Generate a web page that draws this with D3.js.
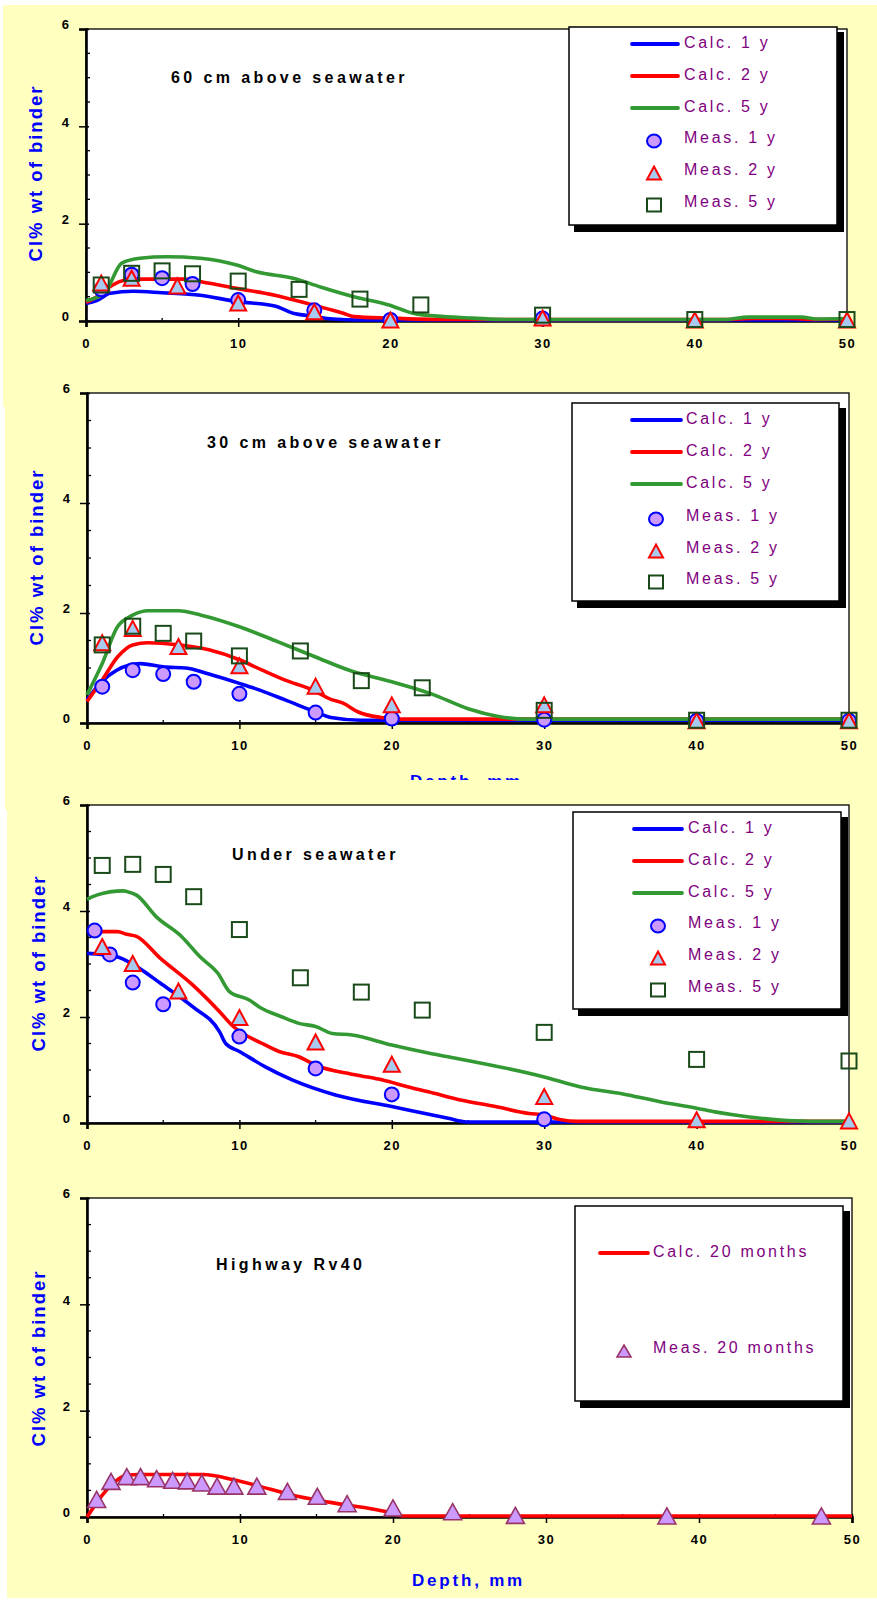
<!DOCTYPE html>
<html><head><meta charset="utf-8">
<script src="https://cdn.jsdelivr.net/npm/d3@7"></script>
<style>body{margin:0;background:#fff}svg{display:block}</style>
</head><body>
<svg id="c" width="877" height="1600"></svg>
<script>
// ---------- data ----------
const depthTicks = [0, 10, 20, 30, 40, 50];
const depthMinor = [5, 15, 25, 35, 45];
const clTicks = [0, 2, 4, 6];
const clMinor = [0.5, 1, 1.5, 2.5, 3, 3.5, 4.5, 5, 5.5];
const titles = ["60 cm above seawater", "30 cm above seawater", "Under seawater", "Highway Rv40"];
const legendLabels = ["Calc. 1 y", "Calc. 2 y", "Calc. 5 y", "Meas. 1 y", "Meas. 2 y", "Meas. 5 y"];
const legendLabelsHwy = ["Calc. 20 months", "Meas. 20 months"];
const yAxisLabel = "Cl% wt of binder";
const xAxisLabel = "Depth, mm";

// 60 cm above seawater
const p60Calc1 = [[0,0.36],[0.7,0.42],[1.6,0.57],[3.1,0.61],[5,0.58],[7.5,0.53],[9.9,0.4],[12.4,0.31],[13.6,0.16],[14.9,0.1],[16.2,0.04],[18,0.02],[50,0.02]];
const p60Calc2 = [[0,0.38],[0.7,0.5],[1.6,0.71],[2.2,0.81],[3.1,0.86],[6.4,0.86],[8,0.78],[9.9,0.67],[12.4,0.53],[14.9,0.33],[16.9,0.16],[17.6,0.09],[19.9,0.06],[24,0.03],[42,0.03],[44,0.05],[46,0.05],[48,0.03],[50,0.04]];
const p60Calc5 = [[0,0.42],[1.2,0.57],[2.35,1.19],[3.55,1.29],[5.3,1.32],[7.5,1.29],[9.9,1.15],[11.2,1.01],[13.6,0.88],[15.4,0.7],[17.6,0.5],[19.9,0.33],[21.5,0.16],[23.5,0.09],[25.4,0.06],[27.6,0.03],[42,0.03],[43.5,0.08],[47,0.08],[48,0.04],[50,0.05]];
const p60Meas1 = [[1,0.65],[3,0.95],[5,0.88],[7,0.76],[10,0.43],[15,0.22],[20,0.02],[30,0.05]];
const p60Meas2 = [[1,0.78],[3,0.88],[6,0.72],[10,0.37],[15,0.19],[20,0.02],[30,0.06],[40,0.02],[50,0.02]];
const p60Meas5 = [[1,0.74],[3,0.98],[5,1.03],[7,0.97],[10,0.82],[14,0.65],[18,0.45],[22,0.33],[30,0.12],[40,0.03],[50,0.03]];

// 30 cm above seawater
const p30Calc1 = [[0,0.42],[0.85,0.72],[1.95,0.96],[3.5,1.08],[5,1.02],[6.5,1.0],[8,0.89],[10,0.72],[11,0.63],[13,0.42],[15,0.2],[16,0.1],[18,0.05],[50,0.05]];
const p30Calc2 = [[0,0.39],[1,0.78],[2,1.2],[3,1.42],[4,1.46],[6,1.42],[8,1.33],[10,1.15],[11.5,0.96],[13,0.78],[14.8,0.6],[16,0.43],[16.8,0.36],[17.8,0.2],[19.3,0.1],[20.5,0.07],[50,0.07]];
const p30Calc5 = [[0,0.51],[1,1.08],[2,1.75],[3,1.96],[4,2.04],[6,2.04],[7.5,1.96],[10,1.75],[12.5,1.48],[15,1.2],[17.3,0.95],[20,0.75],[22.6,0.53],[25,0.26],[27,0.12],[28.7,0.07],[50,0.07]];
const p30Meas1 = [[1,0.66],[3,0.96],[5,0.89],[7,0.75],[10,0.53],[15,0.19],[20,0.08],[30,0.06],[40,0.04],[50,0.04]];
const p30Meas2 = [[1,1.46],[3,1.72],[6,1.39],[10,1.04],[15,0.67],[20,0.33],[30,0.33],[40,0.04],[50,0.04]];
const p30Meas5 = [[1,1.42],[3,1.76],[5,1.63],[7,1.49],[10,1.22],[14,1.31],[18,0.77],[22,0.64],[30,0.23],[40,0.05],[50,0.05]];

// Under seawater
const pUnCalc1 = [[0,3.2],[1.9,3.14],[3.25,2.95],[4.8,2.64],[6.95,2.19],[8.7,1.72],[9.1,1.5],[10,1.35],[11.7,1.06],[13.5,0.81],[16.3,0.53],[20,0.31],[23.7,0.09],[24.9,0.02],[50,0.02]];
const pUnCalc2 = [[0,3.61],[2,3.61],[2.6,3.56],[3.25,3.52],[4.8,3.11],[6.95,2.6],[8.7,2.1],[9.6,1.82],[11.5,1.5],[12.6,1.35],[13.9,1.25],[15,1.09],[17.6,0.91],[19.4,0.81],[21.1,0.68],[22.4,0.59],[24.6,0.43],[26.8,0.31],[29,0.18],[30,0.15],[31.1,0.06],[32.2,0.03],[50,0.03]];
const pUnCalc5 = [[0,4.22],[0.63,4.3],[2.37,4.38],[2.6,4.37],[3.25,4.3],[4.55,3.89],[6.2,3.52],[7.4,3.14],[8.6,2.82],[9.35,2.48],[10.65,2.32],[11.3,2.19],[12.8,2.0],[13.9,1.88],[15,1.82],[16.1,1.69],[17.4,1.66],[20,1.47],[22.4,1.32],[23.7,1.25],[30,0.87],[32.4,0.68],[35.5,0.53],[37.6,0.4],[40,0.28],[41.2,0.21],[42.5,0.15],[44.2,0.09],[46.4,0.04],[48.6,0.03],[50,0.03]];
const pUnMeas1 = [[0.5,3.63],[1.5,3.18],[3,2.65],[5,2.24],[10,1.63],[15,1.03],[20,0.54],[30,0.07]];
const pUnMeas2 = [[1,3.33],[3,3.01],[6,2.49],[10,1.99],[15,1.53],[20,1.11],[30,0.5],[40,0.06],[50,0.04]];
const pUnMeas5 = [[1,4.86],[3,4.88],[5,4.69],[7,4.27],[10,3.65],[14,2.74],[18,2.47],[22,2.13],[30,1.71],[40,1.2],[50,1.17]];

// Highway Rv40
const hwyCalc20 = [[0,0],[1.9,0.68],[2.6,0.79],[3.5,0.8],[7.6,0.8],[9.6,0.7],[12,0.52],[13.9,0.38],[16,0.27],[20,0.07],[20.6,0.02],[50,0.02]];
const hwyMeas20 = [[0.63,0.33],[1.57,0.67],[2.6,0.76],[3.5,0.76],[4.55,0.72],[5.6,0.69],[6.55,0.68],[7.5,0.64],[8.5,0.58],[9.6,0.58],[11.1,0.58],[13.1,0.48],[15.05,0.39],[17.0,0.25],[20.0,0.17],[23.9,0.1],[28.0,0.03],[37.9,0.02],[48.0,0.02]];

// ---------- styles ----------
const FONT = "'Liberation Sans', Arial, sans-serif";
const YELLOW = "#ffffc0";
const styles = {
  calc1: {stroke: "#0000ff"},
  calc2: {stroke: "#ff0000"},
  calc5: {stroke: "#339933"},
  meas1: {shape: "circle", fill: "#cc99ff", stroke: "#0000ff", sw: 2, w: 14, h: 14},
  meas2: {shape: "triangle", fill: "#a6caf0", stroke: "#ff0000", sw: 2, w: 16, h: 15},
  meas5: {shape: "square", fill: "none", stroke: "#1a4a1a", sw: 2, w: 15, h: 15},
  hwyMeas: {shape: "triangle", fill: "#cc99ff", stroke: "#993366", sw: 1.6, w: 18, h: 16},
  hwyLegMeas: {shape: "triangle", fill: "#cc99ff", stroke: "#993366", sw: 1.6, w: 14, h: 12}
};

const panels = [
  {bg: [3, 5, 874, 402], left: 86, right: 847, top: 29, bottom: 321, title: [171, 83], ylab: [42, 173],
   legend: {x0: 569, y0: 27, x1: 837, y1: 225, rows: [48, 80, 112, 143, 175, 207], lineX: [632, 678], textX: 684, markX: 654},
   calc: [[p60Calc1, "calc1"], [p60Calc2, "calc2"], [p60Calc5, "calc5"]],
   meas: [[p60Meas1, "meas1"], [p60Meas2, "meas2"], [p60Meas5, "meas5"]], labels: legendLabels},
  {bg: [5, 370, 872, 440], left: 87, right: 849, top: 393, bottom: 723, title: [207, 448], ylab: [43, 557],
   legend: {x0: 572, y0: 403, x1: 839, y1: 601, rows: [424, 456, 488, 521, 553, 584], lineX: [632, 681], textX: 686, markX: 656},
   calc: [[p30Calc1, "calc1"], [p30Calc2, "calc2"], [p30Calc5, "calc5"]],
   meas: [[p30Meas1, "meas1"], [p30Meas2, "meas2"], [p30Meas5, "meas5"]], labels: legendLabels, xlab: [410, 787]},
  {bg: [7, 780, 870, 380], left: 87, right: 849, top: 805, bottom: 1123, title: [232, 860], ylab: [45, 963],
   legend: {x0: 573, y0: 812, x1: 841, y1: 1009, rows: [833, 865, 897, 928, 960, 992], lineX: [634, 682], textX: 688, markX: 658},
   calc: [[pUnCalc1, "calc1"], [pUnCalc2, "calc2"], [pUnCalc5, "calc5"]],
   meas: [[pUnMeas1, "meas1"], [pUnMeas2, "meas2"], [pUnMeas5, "meas5"]], labels: legendLabels},
  {bg: [7, 1160, 870, 438], left: 87, right: 852, top: 1198, bottom: 1517, title: [216, 1270], ylab: [45, 1358],
   legend: {x0: 575, y0: 1206, x1: 843, y1: 1401, rows: [1257, 1353], lineX: [600, 648], textX: 653, markX: 624},
   calc: [[hwyCalc20, "calc2"]],
   meas: [[hwyMeas20, "hwyMeas"]], labels: legendLabelsHwy, legMeas: ["hwyLegMeas"], xlab: [412, 1586]}
];

// ---------- drawing ----------
const svg = d3.select("#c");

function marker(g, st, cx, cy) {
  if (st.shape === "circle") {
    g.append("ellipse").attr("cx", cx).attr("cy", cy).attr("rx", st.w / 2).attr("ry", st.h / 2)
      .attr("fill", st.fill).attr("stroke", st.stroke).attr("stroke-width", st.sw);
  } else if (st.shape === "triangle") {
    const p = d3.path();
    p.moveTo(cx, cy - st.h / 2); p.lineTo(cx + st.w / 2, cy + st.h / 2); p.lineTo(cx - st.w / 2, cy + st.h / 2); p.closePath();
    g.append("path").attr("d", p.toString()).attr("fill", st.fill).attr("stroke", st.stroke)
      .attr("stroke-width", st.sw).attr("stroke-linejoin", "miter");
  } else {
    g.append("rect").attr("x", cx - st.w / 2).attr("y", cy - st.h / 2).attr("width", st.w).attr("height", st.h)
      .attr("fill", st.fill).attr("stroke", st.stroke).attr("stroke-width", st.sw);
  }
}

panels.forEach((P, i) => {
  const g = svg.append("g");
  g.append("rect").attr("x", P.bg[0]).attr("y", P.bg[1]).attr("width", P.bg[2]).attr("height", P.bg[3]).attr("fill", YELLOW);

  const x = d3.scaleLinear().domain([0, 50]).range([P.left, P.right]);
  const y = d3.scaleLinear().domain([0, 6]).range([P.bottom, P.top]);

  // plot area
  g.append("rect").attr("x", P.left).attr("y", P.top).attr("width", P.right - P.left).attr("height", P.bottom - P.top)
    .attr("fill", "#fff").attr("stroke", "#000").attr("stroke-width", 1.3);

  // minor ticks (inside)
  g.append("g").selectAll("line").data(clMinor).join("line")
    .attr("x1", P.left).attr("x2", P.left + 4).attr("y1", d => y(d)).attr("y2", d => y(d))
    .attr("stroke", "#000").attr("stroke-width", 1.3);
  g.append("g").selectAll("line").data(depthMinor).join("line")
    .attr("x1", d => x(d)).attr("x2", d => x(d)).attr("y1", P.bottom).attr("y2", P.bottom - 3)
    .attr("stroke", "#000").attr("stroke-width", 1.3);

  // axes
  const ax = g.append("g").attr("transform", `translate(0,${P.bottom})`)
    .call(d3.axisBottom(x).tickValues(depthTicks).tickSizeOuter(0).tickSize(6).tickPadding(12).tickFormat(d3.format("d")));
  ax.select(".domain").attr("stroke-width", 2.6);
  ax.selectAll(".tick line").attr("y1", -3).attr("stroke-width", 1.5);
  ax.selectAll("text").attr("font-family", FONT).attr("font-size", 13).attr("font-weight", "bold")
    .attr("letter-spacing", "1.5px").attr("fill", "#000");

  const ay = g.append("g").attr("transform", `translate(${P.left},0)`)
    .call(d3.axisLeft(y).tickValues(clTicks).tickSizeOuter(0).tickSize(7).tickPadding(10).tickFormat(d3.format("d")));
  ay.select(".domain").attr("stroke-width", 2.6);
  ay.selectAll(".tick line").attr("x2", -7).attr("x1", 3).attr("stroke-width", 1.5);
  ay.selectAll("text").attr("font-family", FONT).attr("font-size", 13).attr("font-weight", "bold")
    .attr("y", -4.5).attr("fill", "#000");

  // calculated lines
  const line = d3.line().x(d => x(d[0])).y(d => y(d[1])).curve(d3.curveMonotoneX);
  P.calc.forEach(([data, key]) => {
    g.append("path").datum(data).attr("d", line).attr("fill", "none")
      .attr("stroke", styles[key].stroke).attr("stroke-width", 3.6).attr("stroke-linejoin", "round");
  });

  // measured points
  P.meas.forEach(([data, key]) => {
    const mg = g.append("g");
    data.forEach(d => marker(mg, styles[key], x(d[0]), y(d[1])));
  });

  // title
  g.append("text").attr("x", P.title[0]).attr("y", P.title[1]).text(titles[i])
    .attr("font-family", FONT).attr("font-size", 16).attr("font-weight", "bold")
    .attr("letter-spacing", "3.4px").attr("fill", "#000");

  // y label
  g.append("text").attr("transform", `translate(${P.ylab[0]},${P.ylab[1]}) rotate(-90)`)
    .attr("text-anchor", "middle").text(yAxisLabel)
    .attr("font-family", FONT).attr("font-size", 18.5).attr("font-weight", "bold")
    .attr("letter-spacing", "2px").attr("fill", "#0000ff");

  // x label
  if (P.xlab) {
    g.append("text").attr("x", P.xlab[0]).attr("y", P.xlab[1]).text(xAxisLabel)
      .attr("font-family", FONT).attr("font-size", 17).attr("font-weight", "bold")
      .attr("letter-spacing", "2.8px").attr("fill", "#0000ff");
  }

  // legend
  const L = P.legend;
  const lg = g.append("g");
  lg.append("rect").attr("x", L.x0 + 5).attr("y", L.y0 + 5).attr("width", L.x1 - L.x0 + 2).attr("height", L.y1 - L.y0 + 2).attr("fill", "#000");
  lg.append("rect").attr("x", L.x0).attr("y", L.y0).attr("width", L.x1 - L.x0).attr("height", L.y1 - L.y0)
    .attr("fill", "#fff").attr("stroke", "#000").attr("stroke-width", 1.5);
  const nCalc = P.calc.length;
  P.labels.forEach((lab, k) => {
    const by = L.rows[k];
    if (k < nCalc) {
      lg.append("line").attr("x1", L.lineX[0]).attr("x2", L.lineX[1]).attr("y1", by - 4).attr("y2", by - 4)
        .attr("stroke", styles[P.calc[k][1]].stroke).attr("stroke-width", 3.8).attr("stroke-linecap", "round");
    } else {
      const key = P.legMeas ? P.legMeas[k - nCalc] : P.meas[k - nCalc][1];
      const st = Object.assign({}, styles[key]);
      if (!P.legMeas) { st.w = Math.min(st.w, 14); st.h = Math.min(st.h, 13); }
      marker(lg, st, L.markX, by - 2);
    }
    lg.append("text").attr("x", L.textX).attr("y", by).text(lab)
      .attr("font-family", FONT).attr("font-size", 16).attr("letter-spacing", "2.7px").attr("fill", "#800080");
  });
});
</script>
</body></html>
